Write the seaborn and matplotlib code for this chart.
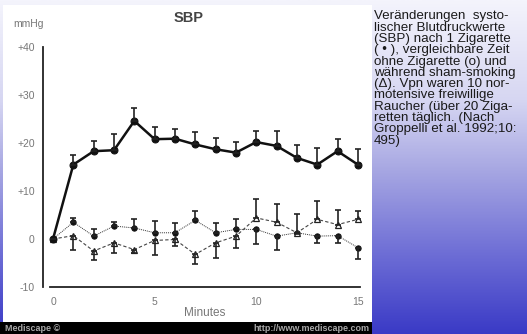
import numpy as np
import pandas as pd
import matplotlib
matplotlib.use("Agg")
import matplotlib.pyplot as plt
from matplotlib.colors import LinearSegmentedColormap
from matplotlib.patches import Rectangle
import seaborn as sns

sns.set_style("white")
plt.rcParams['font.family'] = ['Liberation Sans', 'DejaVu Sans']

# ---------------- data ----------------
minutes = list(range(16))
cigarette = [0, 15.5, 18.3, 18.5, 24.6, 20.8, 20.9, 19.7, 18.7, 18.0, 20.2, 19.4, 16.9, 15.5, 18.3, 15.5]
cigarette_err_up = [0, 2.0, 2.1, 3.3, 2.6, 2.5, 2.0, 2.6, 2.4, 2.2, 2.3, 3.0, 2.7, 3.5, 2.5, 3.3]

no_cigarette = [0, 3.5, 0.6, 2.7, 2.3, 1.3, 1.3, 3.9, 1.3, 2.0, 2.0, 0.6, 1.3, 0.6, 0.7, -1.8]
no_cig_err_up = [0, 0.9, 1.4, 0.8, 1.9, 2.4, 2.1, 1.9, 2.1, 2.1, 0, 0, 0, 0, 0, 0]
no_cig_err_down = [0, 0, 0, 0, 0, 0, 0, 0, 0, 0, 3.1, 2.8, 0.3, 1.5, 1.6, 2.3]

sham = [0, 0.7, -2.5, -0.8, -2.2, -0.3, -0.1, -3.2, -0.8, 0.6, 4.4, 3.5, 1.3, 4.1, 3.0, 4.1]
sham_err_up = [0, 0, 0, 0, 0, 0, 0, 0, 0, 0, 4.0, 3.7, 3.9, 3.8, 3.1, 1.8]
sham_err_down = [0, 2.9, 1.9, 2.2, 0.8, 3.1, 1.4, 2.1, 3.1, 2.4, 0, 0, 0, 0, 0, 0]

y_ticks = [-10, 0, 10, 20, 30, 40]
y_tick_labels = ["-10", "0", "+10", "+20", "+30", "+40"]
x_ticks = [0, 5, 10, 15]
x_tick_labels = ["0", "5", "10", "15"]

title = "SBP"
y_unit = "mmHg"
x_label = "Minutes"
caption_lines = [
    "Veränderungen  systo-",
    "lischer Blutdruckwerte",
    "(SBP) nach 1 Zigarette",
    "( • ), vergleichbare Zeit",
    "ohne Zigarette (o) und",
    "während sham-smoking",
    "(Δ). Vpn waren 10 nor-",
    "motensive freiwillige",
    "Raucher (über 20 Ziga-",
    "retten täglich. (Nach",
    "Groppelli et al. 1992;10:",
    "495)",
]

W, H = 527, 334
fig = plt.figure(figsize=(W / 100, H / 100), dpi=100)

# ---------------- background ----------------
bg = fig.add_axes([0, 0, 1, 1])
cmap = LinearSegmentedColormap.from_list(
    "bg", [(0.0, "#f4f4fc"), (0.3, "#d6d6f2"), (0.5, "#a9a9e3"),
           (0.75, "#7070d6"), (1.0, "#3a3ac6")])
grad = np.linspace(0, 1, 256).reshape(-1, 1)
bg.imshow(grad, aspect="auto", cmap=cmap, extent=[0, W, H, 0])
bg.set_xlim(0, W)
bg.set_ylim(H, 0)
bg.axis("off")
bg.add_patch(Rectangle((3, 5), 369, 318, facecolor="white", edgecolor="none"))
bg.add_patch(Rectangle((0, 322), 372, 12, facecolor="black", edgecolor="none"))
bg.text(5, 328.5, "Mediscape ©", color="#a8a8a8", fontsize=6.5, fontweight="bold",
        va="center", ha="left")
bg.text(369, 328.5, "http://www.mediscape.com", color="#a8a8a8", fontsize=6.5,
        fontweight="bold", va="center", ha="right")

bg.text(189, 18, title, color="#444444", fontsize=10.5, fontweight="bold", ha="center", va="center")
bg.text(29, 24, y_unit, color="#777777", fontsize=7.5, ha="center", va="center")
bg.text(205, 313, x_label, color="#777777", fontsize=8.5, ha="center", va="center")

bg.text(374, 10.5, "\n".join(caption_lines), color="#1a1a1a", fontsize=9.6,
        ha="left", va="top", linespacing=0.92)

# ---------------- chart ----------------
x0, x1, y0, y1 = 40, 365, 44, 292
ax = fig.add_axes([x0 / W, 1 - y1 / H, (x1 - x0) / W, (y1 - y0) / H])
ax.patch.set_alpha(0)

df = pd.DataFrame({"minute": minutes, "cig": cigarette, "nocig": no_cigarette, "sham": sham})

sns.lineplot(data=df, x="minute", y="nocig", ax=ax, color="#333333", linewidth=0.7,
             linestyle=(0, (1, 1)), marker="o", markersize=3.8, markerfacecolor="#111111",
             markeredgecolor="#111111")
sns.lineplot(data=df, x="minute", y="sham", ax=ax, color="#444444", linewidth=0.8,
             linestyle=(0, (3, 2)), marker="^", markersize=4.5, markerfacecolor="white",
             markeredgecolor="#222222", markeredgewidth=0.9)
sns.lineplot(data=df, x="minute", y="cig", ax=ax, color="#111111", linewidth=1.8,
             marker="o", markersize=5, markerfacecolor="#111111", markeredgecolor="#111111")

ax.errorbar(minutes, cigarette, yerr=[np.zeros(16), cigarette_err_up], fmt="none",
            ecolor="#222222", elinewidth=1.2, capsize=2, capthick=1.2)
ax.errorbar(minutes, no_cigarette, yerr=[no_cig_err_down, no_cig_err_up], fmt="none",
            ecolor="#222222", elinewidth=1.2, capsize=2, capthick=1.2)
ax.errorbar(minutes, sham, yerr=[sham_err_down, sham_err_up], fmt="none",
            ecolor="#222222", elinewidth=1.2, capsize=2, capthick=1.2)

ax.set_xlim(-0.64, 15.35)
ax.set_ylim(-11.04, 40.63)
ax.set_xlabel("")
ax.set_ylabel("")

for s in ["top", "right"]:
    ax.spines[s].set_visible(False)
ax.spines["left"].set_position(("data", -0.49))
ax.spines["left"].set_bounds(-10, 40)
ax.spines["bottom"].set_position(("data", -10))
ax.spines["bottom"].set_bounds(-0.15, 15.1)
for s in ["left", "bottom"]:
    ax.spines[s].set_color("#222222")
    ax.spines[s].set_linewidth(1.3)

ax.set_yticks(y_ticks, y_tick_labels)
ax.set_yticks([-5, 5, 15, 25, 35], minor=True)
ax.set_xticks(x_ticks, x_tick_labels)
ax.set_xticks(minutes, minor=True)
ax.tick_params(axis="both", which="both", direction="inout", color="#222222",
               labelcolor="#777777", labelsize=7.5)
ax.tick_params(axis="y", which="major", length=4, width=1, pad=4)
ax.tick_params(axis="y", which="minor", length=3, width=1)
ax.tick_params(axis="x", which="major", length=4, width=1, pad=5)
ax.tick_params(axis="x", which="minor", length=3, width=1)

fig.savefig("out.png", dpi=100)
